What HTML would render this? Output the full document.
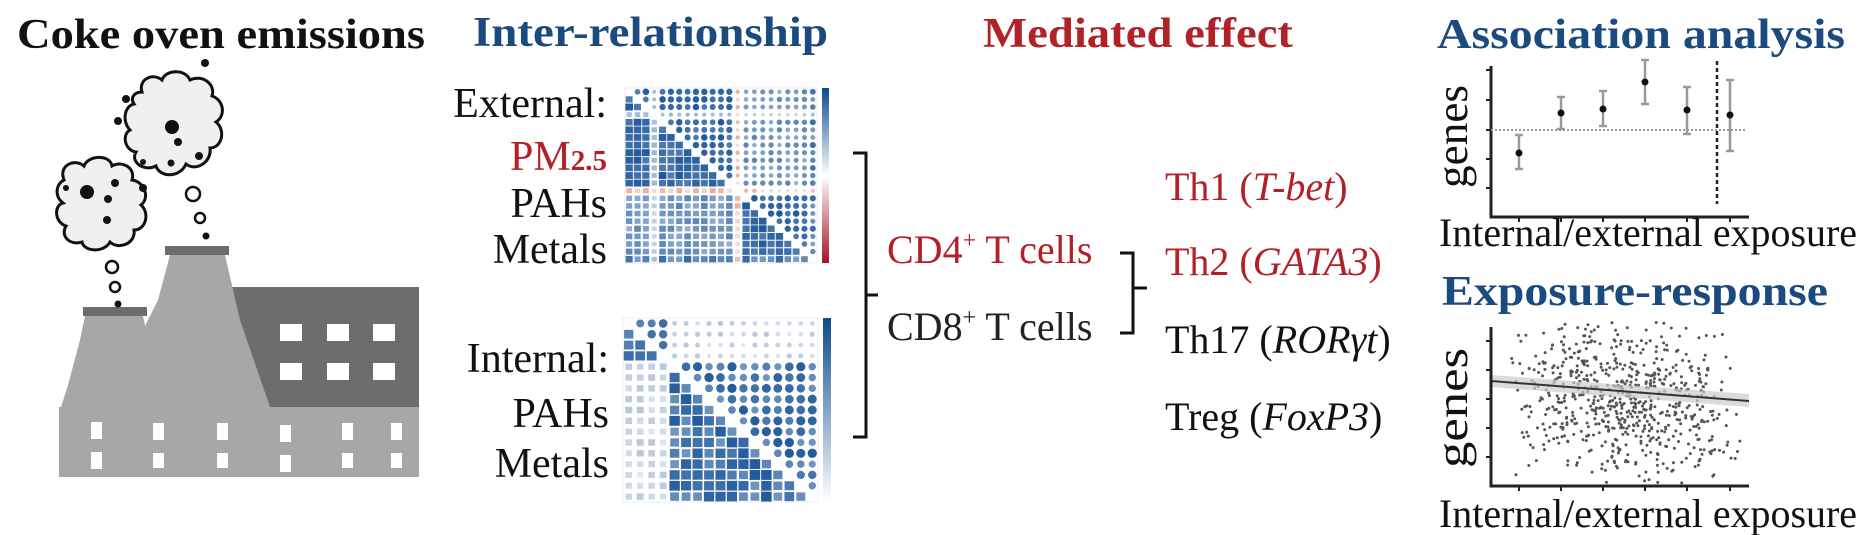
<!DOCTYPE html>
<html><head><meta charset="utf-8"><style>
html,body{margin:0;padding:0;background:#fff;}
svg{display:block;}
text{font-family:"Liberation Serif",serif;}
</style></head><body>
<svg id="s" width="1872" height="535" viewBox="0 0 1872 535" xmlns="http://www.w3.org/2000/svg">
<!-- Titles -->
<text x="17" y="48" font-size="42" font-weight="bold" fill="#111" textLength="408" lengthAdjust="spacingAndGlyphs">Coke oven emissions</text>
<text x="473" y="46" font-size="42" font-weight="bold" fill="#1b4a7e" textLength="355" lengthAdjust="spacingAndGlyphs">Inter-relationship</text>
<text x="983" y="47" font-size="42" font-weight="bold" fill="#b22028" textLength="310" lengthAdjust="spacingAndGlyphs">Mediated effect</text>
<text x="1437" y="48" font-size="42" font-weight="bold" fill="#1b4a7e" textLength="408" lengthAdjust="spacingAndGlyphs">Association analysis</text>
<text x="1442" y="305" font-size="42" font-weight="bold" fill="#1b4a7e" textLength="386" lengthAdjust="spacingAndGlyphs">Exposure-response</text>

<!-- Factory -->
<rect x="228" y="287" width="191" height="122" fill="#6e6c6d"/>
<g fill="#fff">
<rect x="280" y="324" width="22" height="17"/><rect x="327" y="324" width="22" height="17"/><rect x="373" y="324" width="22" height="17"/>
<rect x="280" y="363" width="22" height="17"/><rect x="327" y="363" width="22" height="17"/><rect x="373" y="363" width="22" height="17"/>
</g>
<polygon points="85,316 143,316 146,330 143,407 61,407 68,385 80,340" fill="#a8a6a7"/>
<polygon points="170,255 225,255 240,320 270,407 140,407 143,330 158,300" fill="#a8a6a7"/>
<rect x="83" y="307" width="64" height="9" fill="#6e6c6d"/>
<rect x="165" y="246" width="64" height="9" fill="#6e6c6d"/>
<rect x="59" y="407" width="360" height="70" fill="#a8a6a7"/>
<g fill="#fff">
<rect x="91" y="422" width="11" height="17"/><rect x="153" y="423" width="11" height="17"/><rect x="217" y="423" width="11" height="17"/><rect x="280" y="425" width="11" height="17"/><rect x="342" y="423" width="11" height="17"/><rect x="391" y="423" width="11" height="17"/>
<rect x="91" y="452" width="11" height="17"/><rect x="153" y="453" width="11" height="15"/><rect x="217" y="453" width="11" height="15"/><rect x="280" y="455" width="11" height="17"/><rect x="342" y="453" width="11" height="15"/><rect x="391" y="453" width="11" height="15"/>
</g>
<!-- smoke -->
<g fill="#f0f0f0" stroke="#111" stroke-width="3">
<path d="M64,180 C58,165 75,158 84,166 C88,155 110,154 112,166 C122,160 136,168 132,180 C145,182 150,198 141,205 C150,213 146,230 134,230 C136,244 118,250 110,242 C104,253 84,252 82,242 C70,246 60,236 66,226 C54,222 54,205 63,203 C54,196 56,184 64,180 Z"/>
<path d="M142,92 C138,80 152,72 162,80 C165,70 185,68 190,80 C202,74 216,84 212,96 C224,100 226,116 216,122 C226,130 222,148 210,148 C212,162 196,172 186,164 C180,178 160,178 156,166 C144,172 130,162 136,152 C124,150 122,134 130,130 C122,122 124,106 134,104 C130,98 134,92 142,92 Z"/>
</g>
<g fill="#111">
<circle cx="87" cy="192" r="7"/><circle cx="108" cy="199" r="4"/><circle cx="107" cy="220" r="4"/><circle cx="115" cy="183" r="4"/><circle cx="66" cy="188" r="3"/><circle cx="143" cy="188" r="4"/>
<circle cx="172" cy="127" r="7"/><circle cx="178" cy="142" r="4"/><circle cx="199" cy="156" r="4"/><circle cx="171" cy="163" r="3.5"/><circle cx="143" cy="162" r="3"/><circle cx="126" cy="99" r="4"/><circle cx="118" cy="121" r="4"/><circle cx="205" cy="63" r="4"/>
<circle cx="206" cy="236" r="3.5"/><circle cx="118" cy="304" r="3.5"/>
</g>
<g fill="none" stroke="#111" stroke-width="2.5">
<circle cx="193" cy="194" r="7"/><circle cx="200" cy="218" r="5"/>
<circle cx="112" cy="267" r="6"/><circle cx="115" cy="287" r="5"/>
</g>

<!-- Matrix labels -->
<g font-size="42" text-anchor="end" fill="#111">
<text x="607" y="117">External:</text>
<text x="607" y="170" fill="#b22028">PM<tspan font-size="29" font-weight="bold">2.5</tspan></text>
<text x="607" y="217">PAHs</text>
<text x="607" y="263">Metals</text>
<text x="609" y="372">Internal:</text>
<text x="609" y="427">PAHs</text>
<text x="609" y="477">Metals</text>
</g>
<g id="m1"></g><g id="m2"></g>

<!-- brackets -->
<path d="M853,153 H866 V437 H853 M866,295 H878" fill="none" stroke="#111" stroke-width="3"/>
<g font-size="40">
<text x="887" y="263" fill="#b22028">CD4<tspan font-size="24" dy="-15">+</tspan><tspan dy="15"> T cells</tspan></text>
<text x="887" y="340" fill="#222">CD8<tspan font-size="24" dy="-15">+</tspan><tspan dy="15"> T cells</tspan></text>
</g>
<path d="M1120,253 H1133 V333 H1120 M1133,288 H1147" fill="none" stroke="#111" stroke-width="3"/>
<g font-size="40">
<text x="1165" y="200" fill="#b22028">Th1 (<tspan font-style="italic">T-bet</tspan>)</text>
<text x="1165" y="275" fill="#b22028">Th2 (<tspan font-style="italic">GATA3</tspan>)</text>
<text x="1165" y="353" fill="#111">Th17 (<tspan font-style="italic">RORγt</tspan>)</text>
<text x="1165" y="430" fill="#111">Treg (<tspan font-style="italic">FoxP3</tspan>)</text>
</g>

<!-- Plot 1 -->
<g stroke="#222" fill="none">
<path d="M1491,66 V217 H1749" stroke-width="3"/>
<path d="M1486,70 H1491 M1486,100 H1491 M1486,130 H1491 M1486,159 H1491 M1486,188 H1491 M1519,217 V222 M1561,217 V222 M1603,217 V222 M1645,217 V222 M1687,217 V222 M1730,217 V222" stroke-width="2"/>
<path d="M1491,130 H1747" stroke="#999" stroke-width="2" stroke-dasharray="2,2"/>
<path d="M1717,61 V204" stroke-width="2.5" stroke-dasharray="4,3"/>
</g>
<g stroke="#999" stroke-width="2.5">
<path d="M1519,135 V169 M1515,135 H1523 M1515,169 H1523"/>
<path d="M1561,97 V129 M1557,97 H1565 M1557,129 H1565"/>
<path d="M1603,91 V126 M1599,91 H1607 M1599,126 H1607"/>
<path d="M1645,60 V104 M1641,60 H1649 M1641,104 H1649"/>
<path d="M1687,87 V134 M1683,87 H1691 M1683,134 H1691"/>
<path d="M1730,80 V151 M1726,80 H1734 M1726,151 H1734"/>
</g>
<g fill="#111">
<circle cx="1519" cy="153" r="3.5"/><circle cx="1561" cy="113" r="3.5"/><circle cx="1603" cy="109" r="3.5"/><circle cx="1645" cy="82" r="3.5"/><circle cx="1687" cy="110" r="3.5"/><circle cx="1730" cy="115" r="3.5"/>
</g>
<text transform="translate(1467,188) rotate(-90)" font-size="44" fill="#111" textLength="103" lengthAdjust="spacingAndGlyphs">genes</text>
<text x="1439" y="246" font-size="40" fill="#111" textLength="418" lengthAdjust="spacingAndGlyphs">Internal/external exposure</text>

<!-- Plot 2 -->
<g id="sc" fill="#555"></g>
<polygon points="1491,375 1749,394 1749,407 1491,387" fill="#ccc" opacity="0.7"/>
<path d="M1491,381 L1749,401" stroke="#333" stroke-width="2"/>
<g stroke="#222" fill="none">
<path d="M1491,327 V486 H1749" stroke-width="3"/>
<path d="M1486,341 H1491 M1486,370 H1491 M1486,399 H1491 M1486,428 H1491 M1486,457 H1491 M1519,486 V491 M1561,486 V491 M1603,486 V491 M1645,486 V491 M1687,486 V491 M1730,486 V491" stroke-width="2"/>
</g>
<text transform="translate(1467,468) rotate(-90)" font-size="44" fill="#111" textLength="120" lengthAdjust="spacingAndGlyphs">genes</text>
<text x="1439" y="527" font-size="40" fill="#111" textLength="418" lengthAdjust="spacingAndGlyphs">Internal/external exposure</text>
</svg>
<script>
var NS="http://www.w3.org/2000/svg";
function el(p,t,a){var e=document.createElementNS(NS,t);for(var k in a)e.setAttribute(k,a[k]);p.appendChild(e);return e;}
var seed=7;function rnd(){seed=(seed*16807)%2147483647;return (seed-1)/2147483646;}
function col(v){
 if(v>=0){var r=Math.round(255-v*(255-20)),g=Math.round(255-v*(255-80)),b=Math.round(255-v*(255-150));return "rgb("+r+","+g+","+b+")";}
 v=-v;return "rgb("+Math.round(255-v*(255-200))+","+Math.round(255-v*(255-90))+","+Math.round(255-v*(255-60))+")";}
function matrix(id,x0,y0,w,h,n,corr,neg,bx,bw){
 var g=document.getElementById(id),cw=w/n,ch=h/n;
 el(g,"rect",{x:x0,y:y0,width:w,height:h,fill:"#fff",stroke:"#eee"});
 for(var i=0;i<n;i++)for(var j=0;j<n;j++){
  if(i==j)continue;var v=corr(Math.min(i,j),Math.max(i,j));
  var cx=x0+j*cw+cw/2,cy=y0+i*ch+ch/2,a=Math.abs(v);
  if(i>j){var s=0.45+0.5*a;el(g,"rect",{x:cx-cw*s/2,y:cy-ch*s/2,width:cw*s,height:ch*s,fill:col(v)});}
  else{var r=Math.min(cw,ch)/2*(0.3+0.6*a);el(g,"circle",{cx:cx,cy:cy,r:r,fill:col(v)});}
 }
 var grad=el(g,"linearGradient",{id:id+"g",x1:0,y1:0,x2:0,y2:1});
 el(grad,"stop",{offset:0,"stop-color":"#0d4a8c"});el(grad,"stop",{offset:neg?0.5:1,"stop-color":"#fff"});
 if(neg)el(grad,"stop",{offset:1,"stop-color":"#a01525"});
 el(g,"rect",{x:bx,y:y0,width:bw,height:h,fill:"url(#"+id+"g)"});
}
var g1=function(i){return i<13?0:(i==13?2:(i==22?3:1));};
var vals1={};
matrix("m1",625,88,192,175,23,function(i,j){var k=i+","+j;if(vals1[k]!==undefined)return vals1[k];
 var a=g1(i),b=g1(j),v;
 if(a==2||b==2)v=-0.2-rnd()*0.3; else if(a==0&&b==0)v=0.75+rnd()*0.2;
 else if(a==1&&b==1)v=0.75+rnd()*0.2; else if(a==3||b==3)v=0.55+rnd()*0.3; else v=0.45+rnd()*0.25;
 if(i==3||j==3)v*=0.45;
 return vals1[k]=v;},true,822,7);
var vals2={};
matrix("m2",623,318,195,184,17,function(i,j){var k=i+","+j;if(vals2[k]!==undefined)return vals2[k];
 var v;if(i<4&&j<4)v=0.7+rnd()*0.15;else if(i>=4&&j>=4)v=0.6+rnd()*0.35;else v=0.12+rnd()*0.2;
 return vals2[k]=v;},false,823,8);
var sc=document.getElementById("sc");
for(var k=0;k<700;k++){var x=0;for(var q=0;q<2;q++)x+=rnd();x=1500+x/2*245;var y=0;for(q=0;q<3;q++)y+=rnd();y=400+(y/3-0.5)*220+(x-1620)*0.06;
 if(y<322||y>484){k--;continue;}
 el(sc,"circle",{cx:x.toFixed(1),cy:y.toFixed(1),r:1.5});}
</script>
</body></html>
